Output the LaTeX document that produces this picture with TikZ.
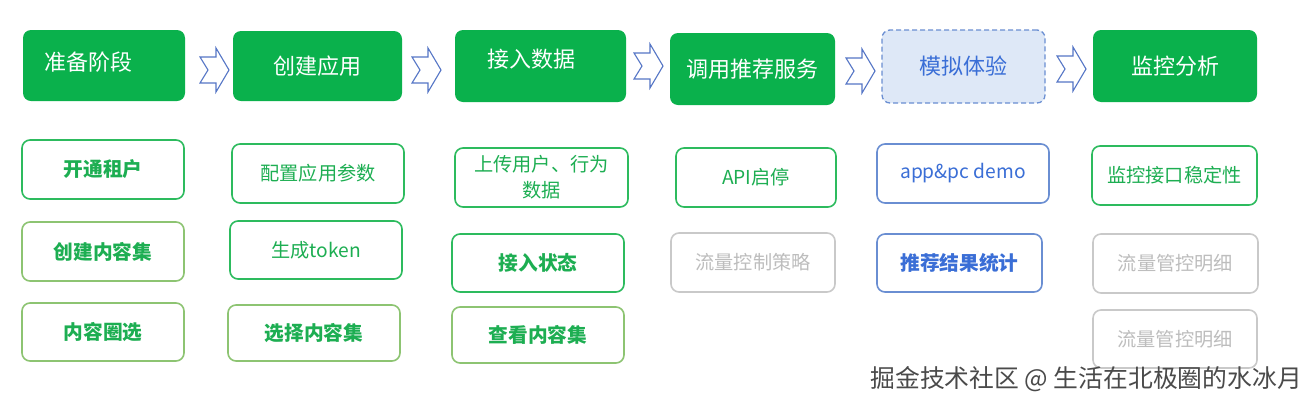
\documentclass[tikz,border=0pt]{standalone}
\usepackage{fontspec}
\setmainfont{Noto Sans CJK SC}
\definecolor{topgreen}{HTML}{0AB14C}
\definecolor{bgreen}{HTML}{2DBB5E}
\definecolor{tgreen}{HTML}{1DAE52}
\definecolor{olive}{HTML}{8DC472}
\definecolor{arrowblue}{HTML}{5576C6}
\definecolor{tblue}{HTML}{3A6ED6}
\definecolor{bblue}{HTML}{6A8ED2}
\definecolor{lblue}{HTML}{DEE8F7}
\definecolor{gborder}{HTML}{C9C9C9}
\definecolor{gtext}{HTML}{BDBDBD}
\definecolor{wmark}{HTML}{4A4A4A}
\tikzset{
  topbox/.style={rectangle, rounded corners=8pt, fill=topgreen, text=white, font=\fontsize{22}{25}\selectfont, inner sep=0pt},
  simbox/.style={rectangle, rounded corners=8pt, fill=lblue, draw=bblue, line width=1.3pt, dash pattern=on 5pt off 3pt, text=tblue, font=\fontsize{22}{25}\selectfont, inner sep=0pt},
  subbox/.style={rectangle, rounded corners=8pt, fill=white, line width=1.6pt, inner sep=0pt, align=center, font=\fontsize{19.2}{26}\selectfont},
  gbox/.style={subbox, draw=bgreen, text=tgreen},
  obox/.style={subbox, draw=olive, text=tgreen},
  bbox/.style={subbox, draw=bblue, text=tblue},
  greybox/.style={subbox, draw=gborder, text=gtext},
  heavy/.style={font=\fontsize{19.7}{26}\selectfont\bfseries},
  flowarrow/.pic={\draw[arrowblue, line width=1.1pt, fill=white, line join=miter]
     (0,-13) -- (16,-13) -- (16,-22) -- (29,0) -- (16,22) -- (16,13) -- (0,13) -- (8,0) -- cycle;},
}
\begin{document}
\begin{tikzpicture}[x=1pt,y=-1pt]
\useasboundingbox[fill=white] (0,0) rectangle (1316,408);
% top stage boxes
\node[topbox, minimum width=162pt, minimum height=71pt] (t1) at (104,65.5) {};
\node[text=white, font=\fontsize{22}{25}\selectfont, inner sep=0pt] (t1txt) at (88,62) {准备阶段};
\node[topbox, minimum width=169pt, minimum height=70pt] (t2) at (317.5,66) {创建应用};
\node[topbox, minimum width=171pt, minimum height=72pt] (t3) at (540.5,66) {};
\node[text=white, font=\fontsize{22}{25}\selectfont, inner sep=0pt] (t3txt) at (531,59) {接入数据};
\node[topbox, minimum width=165pt, minimum height=72pt] (t4) at (752.5,69) {调用推荐服务};
\node[simbox, minimum width=163pt, minimum height=73pt] (t5) at (963.5,66.5) {模拟体验};
\node[topbox, minimum width=164pt, minimum height=72pt] (t6) at (1175,66) {监控分析};
% arrows between stages
\pic at (200,70) {flowarrow};
\pic at (412,70) {flowarrow};
\pic at (634,66) {flowarrow};
\pic at (846,71) {flowarrow};
\pic at (1057,69) {flowarrow};
% column 1
\node[gbox, heavy, minimum width=162pt, minimum height=59pt] (b11) at (103,169.5) {开通租户};
\node[obox, heavy, minimum width=162pt, minimum height=59pt] (b12) at (103,251.5) {创建内容集};
\node[obox, heavy, minimum width=162pt, minimum height=58pt] (b13) at (103,332) {内容圈选};
% column 2
\node[gbox, minimum width=172pt, minimum height=59pt] (b21) at (318,173.5) {配置应用参数};
\node[gbox, minimum width=172pt, minimum height=58pt] (b22) at (316,250) {生成token};
\node[obox, heavy, minimum width=172pt, minimum height=56pt] (b23) at (314,333) {选择内容集};
% column 3
\node[gbox, minimum width=173pt, minimum height=59pt] (b31) at (541.5,177.5) {上传用户、行为\\数据};
\node[gbox, heavy, minimum width=172pt, minimum height=58pt] (b32) at (538,263) {接入状态};
\node[obox, heavy, minimum width=172pt, minimum height=56pt] (b33) at (538,335) {查看内容集};
% column 4
\node[gbox, minimum width=160pt, minimum height=59pt] (b41) at (756,177.5) {API启停};
\node[greybox, minimum width=164pt, minimum height=59pt] (b42) at (753,262.5) {流量控制策略};
% column 5
\node[bbox, minimum width=172pt, minimum height=59pt] (b51) at (963,173.5) {app\&pc demo};
\node[bbox, heavy, minimum width=165pt, minimum height=58pt] (b52) at (959.5,263) {推荐结果统计};
% column 6
\node[gbox, minimum width=165pt, minimum height=59pt] (b61) at (1174.5,175.5) {监控接口稳定性};
\node[greybox, minimum width=165pt, minimum height=59pt] (b62) at (1175.5,263.5) {流量管控明细};
\node[greybox, minimum width=164pt, minimum height=58pt] (b63) at (1175,339) {流量管控明细};
% watermark
\node[anchor=east, text=wmark, font=\fontsize{24.8}{28}\selectfont, inner sep=0pt] (wm) at (1302,379) {掘金技术社区 @ 生活在北极圈的水冰月};
\end{tikzpicture}
\end{document}
